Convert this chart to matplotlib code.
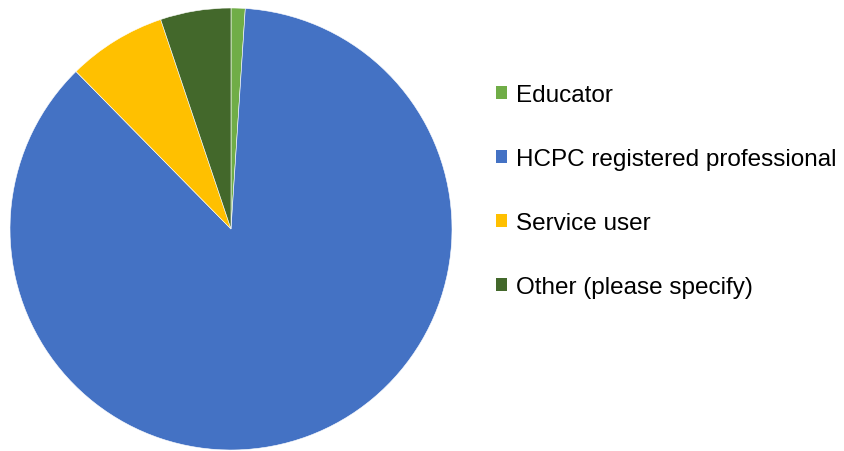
import matplotlib.pyplot as plt
from matplotlib.patches import Patch

labels = ['Educator', 'HCPC registered professional', 'Service user', 'Other (please specify)']
counts = [1, 84, 7, 5]
colors = ['#70AD47', '#4472C4', '#FFC000', '#43682B']

plt.rcParams['font.family'] = ['Liberation Sans', 'DejaVu Sans']

W, H = 844, 452
fig = plt.figure(figsize=(W / 100, H / 100), dpi=100)

# pie centre (231, 230) px, radius 221 px
cx, cy, r = 231, 230, 221
ax = fig.add_axes([(cx - r) / W, (H - cy - r) / H, 2 * r / W, 2 * r / H])
ax.pie(counts, colors=colors, startangle=90, counterclock=False, radius=1,
       wedgeprops=dict(linewidth=0.4, edgecolor='white'))
ax.set_xlim(-1, 1)
ax.set_ylim(-1, 1)
ax.set_aspect('equal')

handles = [Patch(facecolor=c, edgecolor='none') for c in colors]
fig.legend(handles, labels, loc='upper left', bbox_to_anchor=(496 / W, 1 - 85 / H),
           frameon=False, fontsize=17.5, handlelength=0.45, handleheight=0.45,
           handletextpad=0.36, labelspacing=1.73, borderpad=0, borderaxespad=0)

fig.savefig('out.png', dpi=100)
